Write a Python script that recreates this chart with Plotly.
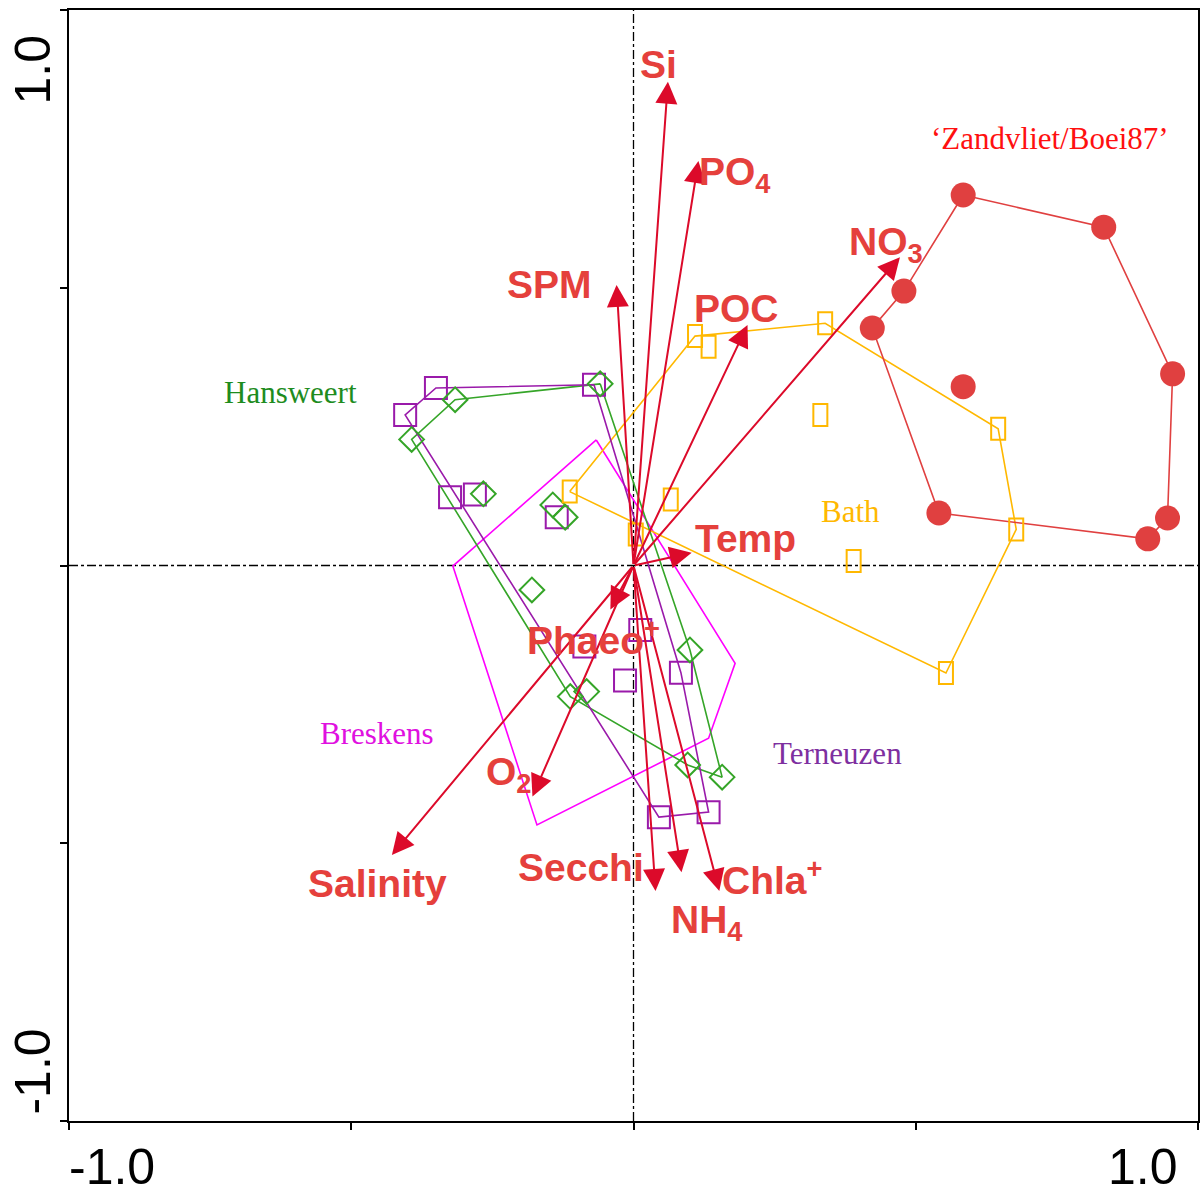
import plotly.graph_objects as go

# ---- environmental variables (biplot arrows, tip coordinates) ----
env_names = ["Si", "PO<sub>4</sub>", "SPM", "POC", "NO<sub>3</sub>", "Temp",
             "Phaeo<sup>+</sup>", "O<sub>2</sub>", "Salinity", "Secchi",
             "NH<sub>4</sub>", "Chla<sup>+</sup>"]
env_x = [0.061, 0.115, -0.030, 0.202, 0.472, 0.103, -0.041, -0.179, -0.428, 0.039, 0.085, 0.152]
env_y = [0.871, 0.728, 0.505, 0.433, 0.555, 0.023, -0.079, -0.416, -0.521, -0.586, -0.552, -0.586]
# label anchor points for the arrow names
env_lab_x = [0.044, 0.180, -0.149, 0.182, 0.448, 0.199, -0.070, -0.221, -0.453, -0.093, 0.131, 0.245]
env_lab_y = [0.901, 0.703, 0.505, 0.4635, 0.577, 0.0495, -0.1305, -0.377, -0.572, -0.543, -0.642, -0.561]

# ---- station samples (site scores) ----
# Zandvliet/Boei87: hull points in drawing order, plus one interior sample
zand_x = [0.584, 0.833, 0.955, 0.946, 0.911, 0.541, 0.423, 0.479, 0.584]
zand_y = [0.667, 0.609, 0.345, 0.0855, 0.048, 0.0945, 0.4275, 0.494, 0.322]
zand_hull = [0, 1, 2, 3, 4, 5, 6, 7, 0]

# Bath
bath_x = [-0.113, 0.109, 0.3395, 0.646, 0.678, 0.5535, 0.133, 0.331, 0.066, 0.004, 0.390]
bath_y = [0.133, 0.413, 0.436, 0.246, 0.065, -0.1935, 0.394, 0.271, 0.119, 0.056, 0.008]
bath_hull = [0, 1, 2, 3, 4, 5, 0]

# Hansweert
hans_x = [-0.059, -0.316, -0.393, -0.112, 0.096, 0.157, 0.100, -0.266, -0.143, -0.121, -0.180, -0.083]
hans_y = [0.327, 0.2985, 0.227, -0.236, -0.359, -0.381, -0.152, 0.129, 0.109, 0.087, -0.044, -0.227]
hans_hull = [0, 1, 2, 3, 4, 5, 6, 0]

# Terneuzen
tern_x = [-0.070, -0.350, -0.4045, 0.045, 0.133, 0.084, -0.325, -0.281, -0.136, 0.012, -0.087, -0.015]
tern_y = [0.3255, 0.3195, 0.271, -0.453, -0.444, -0.193, 0.123, 0.128, 0.087, -0.116, -0.146, -0.207]
tern_hull = [0, 1, 2, 3, 4, 5, 0]

# Breskens (envelope only)
bres_x = [-0.066, -0.320, -0.171, 0.133, 0.180]
bres_y = [0.226, -0.001, -0.467, -0.311, -0.176]
bres_hull = [0, 1, 2, 3, 4, 0]

# station names and where they are written
site_names = ["\u2018Zandvliet/Boei87\u2019", "Hansweert", "Bath", "Breskens", "Terneuzen"]
site_lab_x = [0.737, -0.608, 0.385, -0.4545, 0.361]
site_lab_y = [0.768, 0.312, 0.098, -0.303, -0.339]

RED_TXT = "#E5403C"
ARROW = "#DC0A2A"
C_ZAND = "#E04040"
C_BATH = "#FFB800"
C_HANS = "#35A528"
C_TERN = "#9A1AAA"
C_BRES = "#FF00FF"
site_colors = ["#FF1010", "#1E8C1E", "#FFB800", "#E010E0", "#7E2FA0"]

fig = go.Figure()


def hull(xs, ys, order):
    return [xs[i] for i in order], [ys[i] for i in order]


# envelopes
for xs, ys, order, col in [(bres_x, bres_y, bres_hull, C_BRES),
                           (bath_x, bath_y, bath_hull, C_BATH),
                           (hans_x, hans_y, hans_hull, C_HANS),
                           (tern_x, tern_y, tern_hull, C_TERN),
                           (zand_x, zand_y, zand_hull, C_ZAND)]:
    hx, hy = hull(xs, ys, order)
    fig.add_trace(go.Scatter(x=hx, y=hy, mode="lines",
                             line=dict(color=col, width=1.6),
                             hoverinfo="skip", showlegend=False))

# sample markers
fig.add_trace(go.Scatter(x=tern_x, y=tern_y, mode="markers",
                         marker=dict(symbol="square-open", size=22, color=C_TERN,
                                     line=dict(width=2, color=C_TERN)),
                         showlegend=False))
fig.add_trace(go.Scatter(x=hans_x, y=hans_y, mode="markers",
                         marker=dict(symbol="diamond-open", size=19, color=C_HANS,
                                     line=dict(width=2, color=C_HANS)),
                         showlegend=False))
fig.add_trace(go.Scatter(x=zand_x, y=zand_y, mode="markers",
                         marker=dict(symbol="circle", size=25, color=C_ZAND,
                                     line=dict(width=0)),
                         showlegend=False))

shapes = [
    # dash-dot origin cross
    dict(type="line", xref="x", yref="paper", x0=0, x1=0, y0=0, y1=1,
         line=dict(color="black", width=1.3, dash="dashdot"), layer="below"),
    dict(type="line", xref="paper", yref="y", x0=0, x1=1, y0=0, y1=0,
         line=dict(color="black", width=1.3, dash="dashdot"), layer="below"),
]
# Bath samples: upright open rectangles
for bx, by in zip(bath_x, bath_y):
    shapes.append(dict(type="rect", xref="x", yref="y",
                       xsizemode="pixel", ysizemode="pixel",
                       xanchor=bx, yanchor=by, x0=-7, x1=7, y0=-11, y1=11,
                       line=dict(color=C_BATH, width=2)))

annotations = []
# arrows from the origin
for ex, ey in zip(env_x, env_y):
    annotations.append(dict(x=ex, y=ey, ax=0, ay=0, xref="x", yref="y",
                            axref="x", ayref="y", text="", showarrow=True,
                            arrowhead=2, arrowsize=2.2, arrowwidth=2,
                            arrowcolor=ARROW, standoff=0))
# arrow names
for name, lx, ly in zip(env_names, env_lab_x, env_lab_y):
    annotations.append(dict(x=lx, y=ly, xref="x", yref="y", text="<b>" + name + "</b>",
                            showarrow=False, xanchor="center", yanchor="middle",
                            font=dict(family="Liberation Sans, Arial", size=39,
                                      color=RED_TXT)))
# station names
for name, lx, ly, col in zip(site_names, site_lab_x, site_lab_y, site_colors):
    annotations.append(dict(x=lx, y=ly, xref="x", yref="y", text=name,
                            showarrow=False, xanchor="center", yanchor="middle",
                            font=dict(family="Liberation Serif, Times New Roman",
                                      size=31, color=col)))

# axis end labels
tick_font = dict(family="Liberation Sans, Arial", size=50, color="black")
annotations += [
    dict(x=-1, y=0, xref="x", yref="paper", text="-1.0", showarrow=False,
         xanchor="left", yanchor="middle", yshift=-46, xshift=-2, font=tick_font),
    dict(x=1, y=0, xref="x", yref="paper", text="1.0", showarrow=False,
         xanchor="right", yanchor="middle", yshift=-46, xshift=-18, font=tick_font),
    dict(x=0, y=0.893, xref="paper", yref="y", text="1.0", showarrow=False,
         textangle=-90, xanchor="center", yanchor="middle", xshift=-36, font=tick_font),
    dict(x=0, y=-0.911, xref="paper", yref="y", text="-1.0", showarrow=False,
         textangle=-90, xanchor="center", yanchor="middle", xshift=-36, font=tick_font),
]

axis_common = dict(range=[-1, 1], showgrid=False, zeroline=False, showline=True,
                   mirror=True, linecolor="black", linewidth=2, ticks="outside",
                   ticklen=7, tickwidth=1.5, tickcolor="black",
                   tickvals=[-1, -0.5, 0, 0.5, 1], showticklabels=False)

fig.update_layout(
    width=1203, height=1194,
    margin=dict(l=69, r=3, t=10, b=73),
    paper_bgcolor="white", plot_bgcolor="white",
    xaxis=axis_common, yaxis=axis_common,
    shapes=shapes, annotations=annotations,
    showlegend=False,
)

fig.write_html("out.html")
